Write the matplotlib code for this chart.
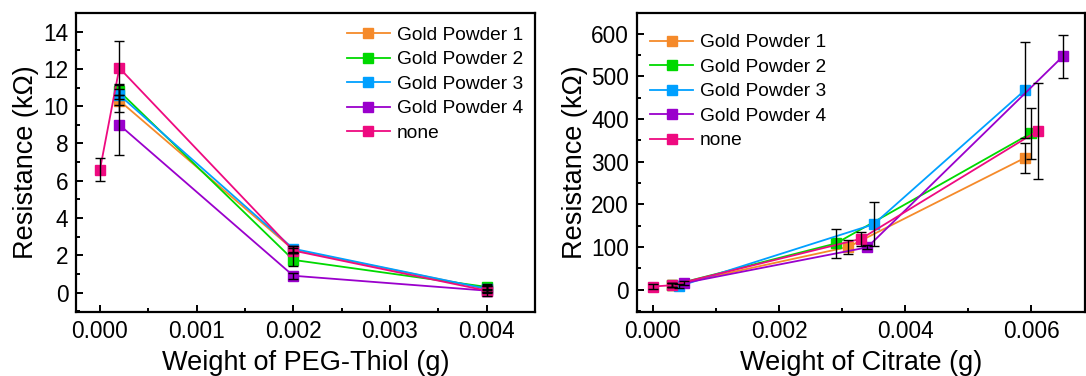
import matplotlib
matplotlib.use("Agg")
import matplotlib.pyplot as plt
from matplotlib.ticker import MultipleLocator, FormatStrFormatter

plt.rcParams['font.family'] = ['Liberation Sans', 'DejaVu Sans']

labels = ["Gold Powder 1", "Gold Powder 2", "Gold Powder 3", "Gold Powder 4", "none"]
colors = ["#F58A2A", "#00D900", "#00A0FF", "#9A00CC", "#EE0A80"]

# Left panel: PEG-Thiol
peg_x = [
    [0.0002, 0.002, 0.004],
    [0.0002, 0.002, 0.004],
    [0.0002, 0.002, 0.004],
    [0.0002, 0.002, 0.004],
    [0.0, 0.0002, 0.002, 0.004],
]
peg_y = [
    [10.3, 2.3, 0.2],
    [10.8, 1.75, 0.3],
    [10.6, 2.35, 0.2],
    [9.0, 0.9, 0.1],
    [6.6, 12.05, 2.25, 0.1],
]
peg_err = [
    [0.6, 0.2, 0.15],
    [0.4, 0.35, 0.15],
    [0.55, 0.15, 0.15],
    [1.6, 0.15, 0.1],
    [0.6, 1.45, 0.15, 0.3],
]

# Right panel: Citrate
cit_x = [
    [0.0003, 0.0031, 0.0059],
    [0.0003, 0.0029, 0.0060],
    [0.00042, 0.0035, 0.0059],
    [0.00049, 0.0034, 0.0065],
    [0.0, 0.0003, 0.0033, 0.0061],
]
cit_y = [
    [10, 100, 309],
    [10, 108, 367],
    [8, 153, 468],
    [15, 99, 547],
    [7, 10, 119, 372],
]
cit_err = [
    [5, 17, 35],
    [5, 33, 60],
    [5, 52, 112],
    [5, 5, 51],
    [5, 5, 16, 113],
]

fig = plt.figure(figsize=(10.86, 3.76), dpi=100)
ax1 = fig.add_axes([0.070, 0.170, 0.4226, 0.7954])
ax2 = fig.add_axes([0.5863, 0.170, 0.4132, 0.7954])

def draw(ax, xs, ys, errs):
    for x, y, e, c, lab in zip(xs, ys, errs, colors, labels):
        ax.errorbar(x, y, yerr=e, fmt='none', ecolor='black', elinewidth=1.0,
                    capsize=3.5, capthick=1.0, zorder=3)
        ax.plot(x, y, '-s', color=c, lw=1.3, markersize=7.5, label=lab, zorder=2)
    for s in ax.spines.values():
        s.set_linewidth(1.6)
    ax.tick_params(which='both', direction='in', top=False, right=False,
                   labelsize=16.3, width=1.4, pad=5.5)
    ax.tick_params(which='major', length=5)
    ax.tick_params(which='minor', length=3)

draw(ax1, peg_x, peg_y, peg_err)
ax1.set_xlim(-0.000248, 0.0045)
ax1.set_ylim(-1.05, 15.0)
ax1.xaxis.set_major_locator(MultipleLocator(0.001))
ax1.xaxis.set_minor_locator(MultipleLocator(0.0005))
ax1.yaxis.set_major_locator(MultipleLocator(2))
ax1.yaxis.set_minor_locator(MultipleLocator(1))
ax1.xaxis.set_major_formatter(FormatStrFormatter('%.3f'))
ax1.set_xlabel("Weight of PEG-Thiol (g)", fontsize=19.5, labelpad=5.5)
ax1.set_ylabel("Resistance (kΩ)", fontsize=19.5, labelpad=3)
ax1.legend(loc='upper left', bbox_to_anchor=(0.59, 0.955), frameon=False,
           fontsize=13.8, handlelength=2.25, handletextpad=0.35,
           labelspacing=0.37, borderpad=0, borderaxespad=0)

draw(ax2, cit_x, cit_y, cit_err)
ax2.set_xlim(-0.000257, 0.00686)
ax2.set_ylim(-53, 649)
ax2.xaxis.set_major_locator(MultipleLocator(0.002))
ax2.xaxis.set_minor_locator(MultipleLocator(0.001))
ax2.yaxis.set_major_locator(MultipleLocator(100))
ax2.yaxis.set_minor_locator(MultipleLocator(50))
ax2.xaxis.set_major_formatter(FormatStrFormatter('%.3f'))
ax2.set_xlabel("Weight of Citrate (g)", fontsize=19.5, labelpad=5.5)
ax2.set_ylabel("Resistance (kΩ)", fontsize=19.5, labelpad=2)
ax2.legend(loc='upper left', bbox_to_anchor=(0.03, 0.93), frameon=False,
           fontsize=13.8, handlelength=2.25, handletextpad=0.35,
           labelspacing=0.37, borderpad=0, borderaxespad=0)

fig.savefig("out.png", dpi=100)
